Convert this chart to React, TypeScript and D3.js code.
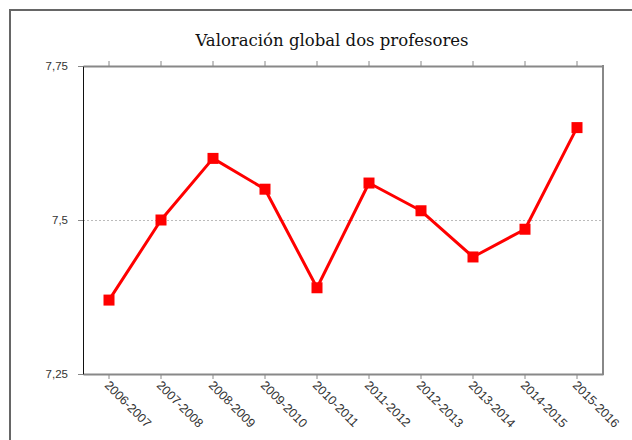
import React, { useEffect, useRef } from "react";
import * as d3 from "d3";

const cursos = [
  "2006-2007", "2007-2008", "2008-2009", "2009-2010", "2010-2011",
  "2011-2012", "2012-2013", "2013-2014", "2014-2015", "2015-2016",
];
const valoracion = [7.37, 7.5, 7.6, 7.55, 7.39, 7.56, 7.515, 7.44, 7.485, 7.65];
const yTicks = [7.25, 7.5, 7.75];
const titulo = "Valoración global dos profesores";

const W = 632;
const H = 440;
const margin = { top: 66, right: 29, bottom: 66, left: 83 };

const App = () => {
  const ref = useRef<SVGGElement | null>(null);

  useEffect(() => {
    const g = d3.select(ref.current);
    g.selectAll("*").remove();

    const x = d3
      .scaleBand()
      .domain(cursos)
      .range([margin.left, W - margin.right]);
    const y = d3
      .scaleLinear()
      .domain([7.25, 7.75])
      .range([H - margin.bottom, margin.top]);
    const cx = (d: string) => (x(d) as number) + x.bandwidth() / 2;
    const fmt = (v: number) => String(v).replace(".", ",");

    // marco exterior
    g.append("rect")
      .attr("x", 10)
      .attr("y", 10)
      .attr("width", W + 20)
      .attr("height", H + 20)
      .attr("fill", "none")
      .attr("stroke", "#666")
      .attr("stroke-width", 2);

    g.append("text")
      .attr("x", 332)
      .attr("y", 46)
      .attr("text-anchor", "middle")
      .style("font-family", "'DejaVu Serif', serif")
      .style("font-size", "16.5px")
      .attr("fill", "#111")
      .text(titulo);

    // liña de referencia en 7,5
    g.append("line")
      .attr("x1", margin.left)
      .attr("x2", W - margin.right)
      .attr("y1", y(7.5) + 0.5)
      .attr("y2", y(7.5) + 0.5)
      .attr("stroke", "#bbb")
      .attr("stroke-dasharray", "2,2");

    // eixos arriba, abaixo e dereita (gris)
    const top = g.append("g").attr("transform", `translate(0,${margin.top})`);
    top
      .call(d3.axisTop(x).tickSize(5).tickSizeOuter(0).tickFormat(() => ""))
      .call((s) => s.selectAll("line,path").attr("stroke", "#888"))
      .call((s) => s.select("path").attr("stroke-width", 2));

    const bottom = g
      .append("g")
      .attr("transform", `translate(0,${H - margin.bottom})`);
    bottom
      .call(d3.axisBottom(x).tickSize(5).tickSizeOuter(0).tickFormat(() => ""))
      .call((s) => s.selectAll("line,path").attr("stroke", "#888"))
      .call((s) => s.select("path").attr("stroke-width", 2));

    g.append("line")
      .attr("x1", W - margin.right)
      .attr("x2", W - margin.right)
      .attr("y1", margin.top - 1)
      .attr("y2", H - margin.bottom + 1)
      .attr("stroke", "#888")
      .attr("stroke-width", 2);

    bottom
      .selectAll("text.lab")
      .data(cursos)
      .enter()
      .append("text")
      .attr("class", "lab")
      .attr("transform", (d) => `translate(${cx(d) - 2},${9}) rotate(45)`)
      .attr("dy", "0.35em")
      .attr("text-anchor", "start")
      .style("font-family", "'Liberation Sans', Arial, sans-serif")
      .style("font-size", "12.5px")
      .attr("fill", "#333")
      .text((d) => d);

    // eixo esquerdo
    const left = g.append("g").attr("transform", `translate(${margin.left},0)`);
    left
      .call(
        d3
          .axisLeft(y)
          .tickValues(yTicks)
          .tickSize(5)
          .tickSizeOuter(0)
          .tickFormat((d) => fmt(d as number))
      )
      .call((s) => s.select("path").attr("stroke", "#111"))
      .call((s) => s.selectAll(".tick line").attr("stroke", "#888"))
      .call((s) =>
        s
          .selectAll("text")
          .attr("x", -15)
          .style("font-family", "'Liberation Sans', Arial, sans-serif")
          .style("font-size", "11.5px")
          .attr("fill", "#333")
      );

    // serie
    const line = d3
      .line<number>()
      .x((d, i) => cx(cursos[i]))
      .y((d) => y(d));

    g.append("path")
      .datum(valoracion)
      .attr("d", line)
      .attr("fill", "none")
      .attr("stroke", "#ff0000")
      .attr("stroke-width", 3)
      .attr("stroke-linejoin", "round");

    g.selectAll("rect.mk")
      .data(valoracion)
      .enter()
      .append("rect")
      .attr("class", "mk")
      .attr("x", (d, i) => cx(cursos[i]) - 5.5)
      .attr("y", (d) => y(d) - 5.5)
      .attr("width", 11)
      .attr("height", 11)
      .attr("fill", "#ff0000");
  }, []);

  return (
    <svg
      width={W}
      height={H}
      style={{ position: "absolute", left: 0, top: 0, background: "#fff" }}
    >
      <g ref={ref} />
    </svg>
  );
};

export default App;
